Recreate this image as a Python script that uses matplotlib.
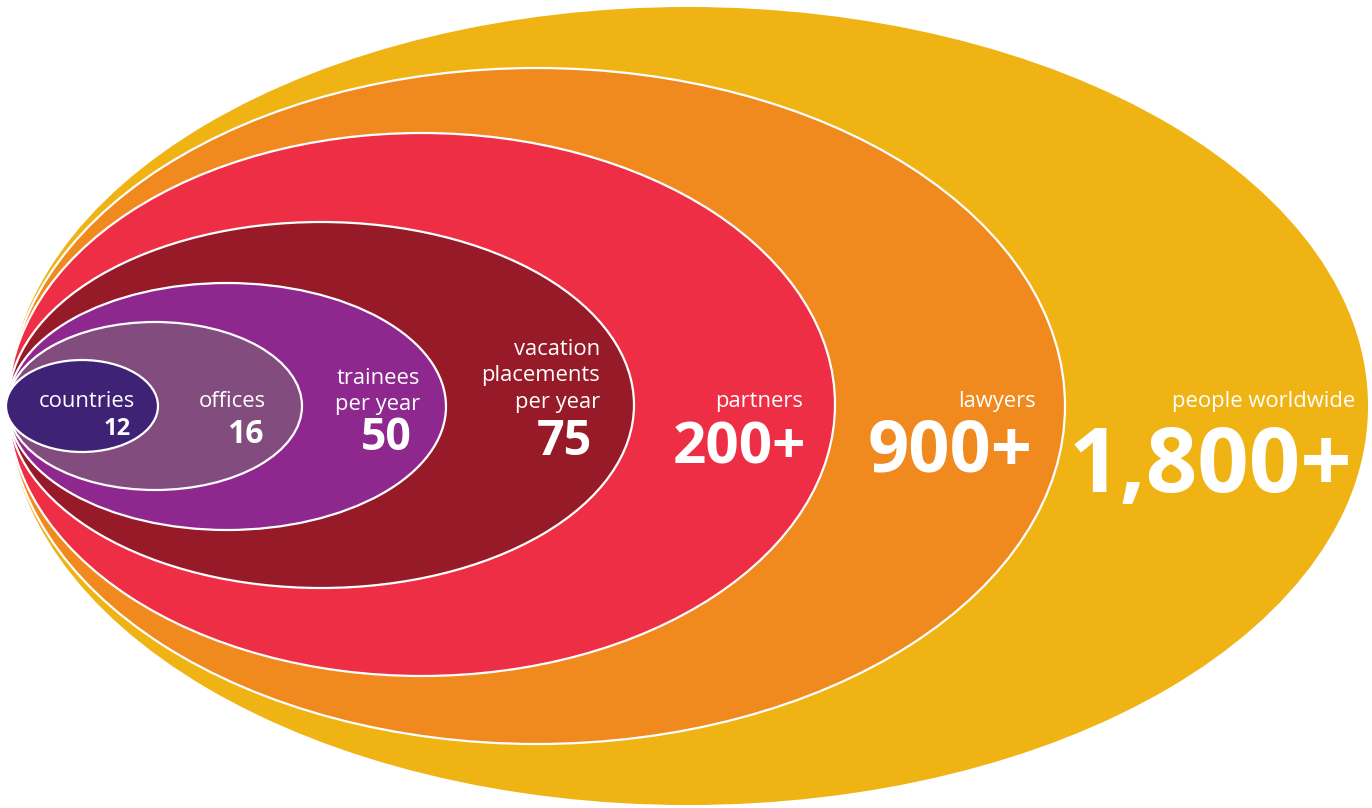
import matplotlib
matplotlib.use("Agg")
import matplotlib.pyplot as plt
from matplotlib.patches import Ellipse

# ---- data ----
labels = ["people worldwide", "lawyers", "partners", "vacation\nplacements\nper year",
          "trainees\nper year", "offices", "countries"]
values = ["1,800+", "900+", "200+", "75", "50", "16", "12"]

# ---- layout (pixel coords) ----
# ellipse boxes: left, right, top, bottom
ell_left = [8, 8, 8, 8, 8, 8, 6]
ell_right = [1368, 1065, 835, 634, 446, 302, 158]
ell_top = [7, 68, 133, 222, 283, 322, 360]
ell_bottom = [805, 744, 676, 588, 530, 490, 452]
colors = ["#EFB314", "#F0891E", "#EE2E44", "#961A27", "#8E288F", "#834C7E", "#3E2276"]
edge_lw = [0, 1.6, 1.6, 1.6, 1.6, 1.6, 1.6]

# text: label right x, label baseline (last line), value right x, value baseline, sizes
lab_x = [1355, 1036, 803, 600, 420, 266, 135]
lab_y = [407, 407, 407, 408, 410, 407, 407]
val_x = [1352, 1033, 806, 592, 412, 264, 131]
val_y = [492, 472, 464, 455, 450, 443, 435]
lab_fs = [15.8, 15.8, 15.8, 15.8, 15.8, 15.8, 15.8]
val_fs = [65, 52, 42, 35, 32, 23, 17]
line_gap = 26.5

W, H = 1372, 808
fig = plt.figure(figsize=(W / 100, H / 100), dpi=100)
ax = fig.add_axes([0, 0, 1, 1])
ax.set_xlim(0, W)
ax.set_ylim(H, 0)
ax.axis("off")

font = "Open Sans"
for i in range(len(labels)):
    cx = (ell_left[i] + ell_right[i]) / 2
    cy = (ell_top[i] + ell_bottom[i]) / 2
    w = ell_right[i] - ell_left[i]
    h = ell_bottom[i] - ell_top[i]
    ax.add_patch(Ellipse((cx, cy), w, h, facecolor=colors[i],
                         edgecolor="white", linewidth=edge_lw[i], zorder=i + 1))

for i in range(len(labels)):
    lines = labels[i].split("\n")
    n = len(lines)
    for k, line in enumerate(lines):
        y = lab_y[i] - (n - 1 - k) * line_gap
        ax.text(lab_x[i], y, line, ha="right", va="baseline", color="white",
                fontsize=lab_fs[i], family=font, zorder=20)
    ax.text(val_x[i], val_y[i], values[i], ha="right", va="baseline", color="white",
            fontsize=val_fs[i], family=font, fontweight="bold", zorder=20)

fig.savefig("out.png", dpi=100, facecolor="white")
